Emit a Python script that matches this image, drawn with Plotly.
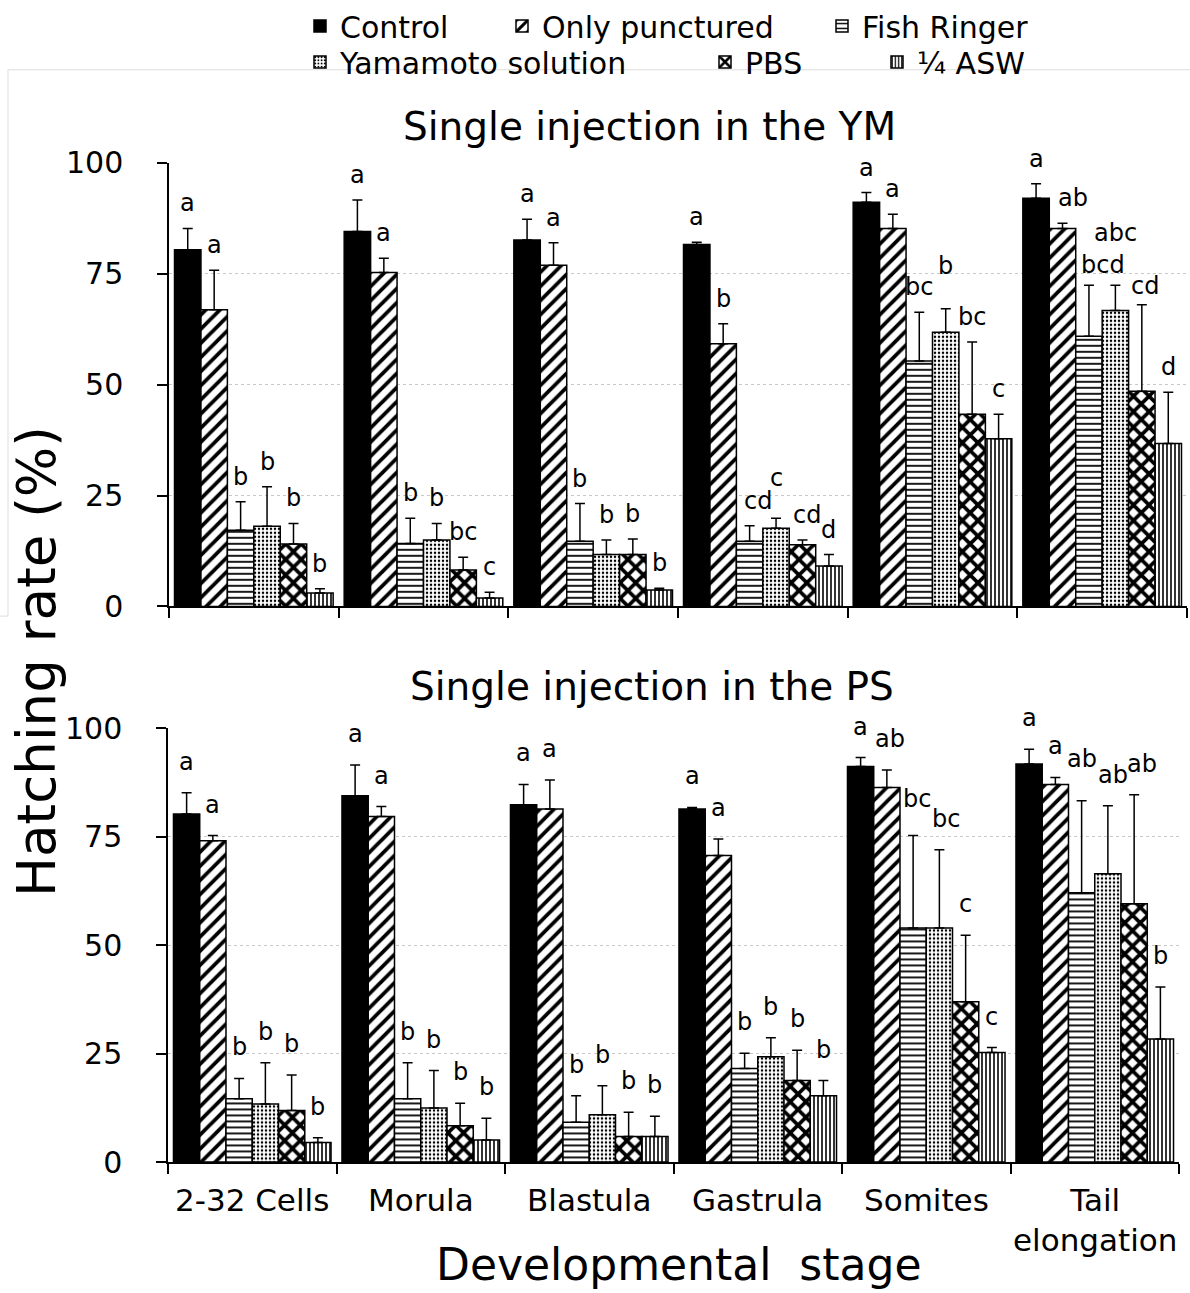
import plotly.graph_objects as go

W, H = 1190, 1293
FONT = "DejaVu Sans"

stages = ["2-32 Cells", "Morula", "Blastula", "Gastrula", "Somites", "Tail<br>elongation"]
series = ["Control", "Only punctured", "Fish Ringer", "Yamamoto solution", "PBS", "¼ ASW"]

# Single injection in the YM (mean hatching rate %, upper error)
ym_control = [80.4, 84.5, 82.6, 81.6, 91.1, 92.0]
ym_punct   = [66.9, 75.3, 76.9, 59.2, 85.2, 85.2]
ym_fish    = [17.2, 14.2, 14.7, 14.7, 55.3, 60.9]
ym_yama    = [18.1, 15.0, 11.7, 17.6, 61.8, 66.7]
ym_pbs     = [14.1, 8.2, 11.7, 13.9, 43.3, 48.5]
ym_asw     = [3.0, 1.9, 3.7, 9.1, 37.8, 36.7]

ym_control_err = [4.8, 7.1, 4.7, 0.5, 2.2, 3.3]
ym_punct_err   = [8.9, 3.2, 5.1, 4.5, 3.2, 1.2]
ym_fish_err    = [6.4, 5.7, 8.5, 3.5, 11.0, 11.5]
ym_yama_err    = [8.9, 3.7, 3.3, 2.3, 5.3, 5.7]
ym_pbs_err     = [4.6, 2.9, 3.5, 1.1, 16.3, 19.5]
ym_asw_err     = [1.0, 1.3, 0.4, 2.6, 5.5, 11.6]

ym_control_lbl = ["a", "a", "a", "a", "a", "a"]
ym_punct_lbl   = ["a", "a", "a", "b", "a", "ab"]
ym_fish_lbl    = ["b", "b", "b", "cd", "bc", "bcd"]
ym_yama_lbl    = ["b", "b", "b", "c", "b", "abc"]
ym_pbs_lbl     = ["b", "bc", "b", "cd", "bc", "cd"]
ym_asw_lbl     = ["b", "c", "b", "d", "c", "d"]

# Single injection in the PS
ps_control = [80.3, 84.5, 82.4, 81.4, 91.2, 91.8]
ps_punct   = [74.1, 79.7, 81.4, 70.7, 86.4, 87.1]
ps_fish    = [14.6, 14.6, 9.2, 21.6, 54.0, 62.1]
ps_yama    = [13.4, 12.5, 10.9, 24.3, 54.0, 66.5]
ps_pbs     = [11.9, 8.4, 5.9, 18.8, 37.0, 59.6]
ps_asw     = [4.5, 5.1, 5.9, 15.3, 25.3, 28.4]

ps_control_err = [4.9, 7.1, 4.7, 0.4, 2.1, 3.4]
ps_punct_err   = [1.2, 2.3, 6.7, 3.8, 4.0, 1.6]
ps_fish_err    = [4.7, 8.3, 6.1, 3.5, 21.3, 21.2]
ps_yama_err    = [9.5, 8.6, 6.7, 4.4, 18.0, 15.7]
ps_pbs_err     = [8.2, 5.2, 5.6, 7.0, 15.3, 25.1]
ps_asw_err     = [1.1, 5.0, 4.7, 3.5, 1.1, 12.0]

ps_control_lbl = ["a", "a", "a", "a", "a", "a"]
ps_punct_lbl   = ["a", "a", "a", "a", "ab", "a"]
ps_fish_lbl    = ["b", "b", "b", "b", "bc", "ab"]
ps_yama_lbl    = ["b", "b", "b", "b", "bc", "ab"]
ps_pbs_lbl     = ["b", "b", "b", "b", "c", "ab"]
ps_asw_lbl     = ["b", "b", "b", "b", "c", "b"]

ym_vals = [ym_control, ym_punct, ym_fish, ym_yama, ym_pbs, ym_asw]
ym_errs = [ym_control_err, ym_punct_err, ym_fish_err, ym_yama_err, ym_pbs_err, ym_asw_err]
ym_lbls = [ym_control_lbl, ym_punct_lbl, ym_fish_lbl, ym_yama_lbl, ym_pbs_lbl, ym_asw_lbl]
ps_vals = [ps_control, ps_punct, ps_fish, ps_yama, ps_pbs, ps_asw]
ps_errs = [ps_control_err, ps_punct_err, ps_fish_err, ps_yama_err, ps_pbs_err, ps_asw_err]
ps_lbls = [ps_control_lbl, ps_punct_lbl, ps_fish_lbl, ps_yama_lbl, ps_pbs_lbl, ps_asw_lbl]

# styles
patterns = [
    None,
    dict(shape="/", size=10, solidity=0.38, fgcolor="black", bgcolor="white"),
    dict(shape="-", size=6, solidity=0.3, fgcolor="black", bgcolor="white"),
    dict(shape=".", size=4, solidity=0.3, fgcolor="black", bgcolor="white"),
    dict(shape="x", size=11, solidity=0.55, fgcolor="black", bgcolor="white"),
    dict(shape="|", size=4, solidity=0.4, fgcolor="black", bgcolor="white"),
]
BARGAP = 0.065

# label placement tweaks (panel, stage index, series index) -> (dx px, dy px)
label_tweaks = {
    ("ym", 3, 2): (8, 0), ("ym", 3, 3): (0, 15), ("ym", 3, 4): (5, 0),
    ("ym", 4, 3): (0, 18),
    ("ym", 5, 1): (10, 0), ("ym", 5, 2): (14, -5), ("ym", 5, 3): (0, 27), ("ym", 5, 4): (3, -6),
    ("ps", 4, 1): (3, 0), ("ps", 4, 2): (4, 6), ("ps", 4, 3): (7, 0),
    ("ps", 5, 2): (0, 11), ("ps", 5, 3): (5, 0), ("ps", 5, 4): (8, 0),
}

fig = go.Figure()
annotations = []

for panel, vals, errs, lbls, xa, ya, yshift in [
    ("ym", ym_vals, ym_errs, ym_lbls, "x", "y", 9),
    ("ps", ps_vals, ps_errs, ps_lbls, "x2", "y2", 15),
]:
    for i, name in enumerate(series):
        marker = dict(color="black" if patterns[i] is None else "white",
                      line=dict(color="black", width=1.5))
        if patterns[i] is not None:
            marker["pattern"] = patterns[i]
        fig.add_trace(go.Bar(
            x=list(range(len(stages))), y=vals[i], name=name,
            marker=marker, xaxis=xa, yaxis=ya,
            error_y=dict(type="data", array=errs[i], arrayminus=[0] * len(stages),
                         symmetric=False, color="black", thickness=1.5, width=5),
            showlegend=(panel == "ym"),
            legend="legend" if i == 0 else f"legend{i + 1}",
            cliponaxis=False,
        ))
        bw = (1 - BARGAP) / len(series)
        for j in range(len(stages)):
            dx, dy = label_tweaks.get((panel, j, i), (0, 0))
            annotations.append(dict(
                x=j + (i - (len(series) - 1) / 2) * bw, y=vals[i][j] + errs[i][j],
                xref=xa, yref=ya, text=lbls[i][j], showarrow=False,
                yanchor="bottom", xanchor="center", xshift=dx, yshift=yshift + dy,
                font=dict(family=FONT, size=24, color="black"),
            ))

def py(p):
    return 1 - p / H

def pxx(p):
    return p / W

axis_common = dict(showline=True, linecolor="black", linewidth=1.5, ticks="outside",
                   ticklen=10, tickwidth=1.5, tickcolor="black", mirror=False)

layout = dict(
    width=W, height=H, margin=dict(l=0, r=0, t=0, b=0),
    paper_bgcolor="white", plot_bgcolor="white", template="none",
    barmode="group", bargap=BARGAP, bargroupgap=0,
    font=dict(family=FONT, color="black"),
    xaxis=dict(domain=[pxx(169), pxx(1187)], anchor="y", type="linear",
               range=[-0.5, 5.5], tickvals=[-0.5, 0.5, 1.5, 2.5, 3.5, 4.5, 5.5],
               showticklabels=False, showgrid=False, zeroline=False, **axis_common),
    yaxis=dict(domain=[py(604.3), py(159.3)], anchor="x", range=[0, 100],
               tickvals=[0, 25, 50, 75, 100], showgrid=True, gridcolor="#c8c8c8",
               griddash="dot", gridwidth=1, zeroline=False, ticklabelstandoff=28,
               tickfont=dict(family=FONT, size=30, color="black"), **axis_common),
    xaxis2=dict(domain=[pxx(168), pxx(1179)], anchor="y2", type="linear",
                range=[-0.5, 5.5], tickvals=[-0.5, 0.5, 1.5, 2.5, 3.5, 4.5, 5.5],
                ticktext=[""] * 7, showgrid=False, zeroline=False, **axis_common),
    yaxis2=dict(domain=[py(1161.7), py(726.7)], anchor="x2", range=[0, 100],
                tickvals=[0, 25, 50, 75, 100], showgrid=True, gridcolor="#c8c8c8",
                griddash="dot", gridwidth=1, zeroline=False, ticklabelstandoff=28,
                tickfont=dict(family=FONT, size=30, color="black"), **axis_common),
)

# category labels for bottom axis (at category centres)
for j, s in enumerate(stages):
    annotations.append(dict(x=j, y=0, xref="x2", yref="y2", text=s, showarrow=False,
                            yanchor="top", xanchor="center", yshift=-18,
                            font=dict(family=FONT, size=31, color="black")))

# titles
annotations += [
    dict(x=pxx(650), y=py(123), xref="paper", yref="paper", text="Single injection in the YM",
         showarrow=False, xanchor="center", yanchor="middle",
         font=dict(family=FONT, size=39, color="black")),
    dict(x=pxx(652), y=py(685), xref="paper", yref="paper", text="Single injection in the PS",
         showarrow=False, xanchor="center", yanchor="middle",
         font=dict(family=FONT, size=39, color="black")),
    dict(x=pxx(37), y=py(660), xref="paper", yref="paper", text="Hatching rate (%)",
         showarrow=False, xanchor="center", yanchor="middle", textangle=-90,
         font=dict(family=FONT, size=53, color="black")),
    dict(x=pxx(679), y=py(1264), xref="paper", yref="paper", text="Developmental  stage",
         showarrow=False, xanchor="center", yanchor="middle",
         font=dict(family=FONT, size=44, color="black")),
]
layout["annotations"] = annotations

# legends: one per entry, laid out in two rows (y = top edge of each legend box)
legend_pos = [(340, -4), (542, -4), (862, -4), (340, 32), (745, 32), (917, 32)]
for i, (tx, ty) in enumerate(legend_pos):
    key = "legend" if i == 0 else f"legend{i + 1}"
    layout[key] = dict(x=pxx(tx - 40), y=py(ty), xanchor="left", yanchor="top",
                       bgcolor="rgba(0,0,0,0)", borderwidth=0,
                       font=dict(family=FONT, size=30, color="black"))

# faint frame visible in the original figure
layout["shapes"] = [
    dict(type="line", xref="paper", yref="paper", x0=pxx(8), x1=1, y0=py(66), y1=py(66),
         line=dict(color="#dddddd", width=1)),
    dict(type="line", xref="paper", yref="paper", x0=pxx(8), x1=pxx(8), y0=py(66), y1=py(614),
         line=dict(color="#dddddd", width=1)),
    dict(type="line", xref="paper", yref="paper", x0=0, x1=pxx(8), y0=py(614), y1=py(614),
         line=dict(color="#dddddd", width=1)),
]

fig.update_layout(**layout)
fig.write_html("out.html", config={"displayModeBar": False},
               post_script="document.body.style.margin='0';document.body.style.overflow='hidden';")
